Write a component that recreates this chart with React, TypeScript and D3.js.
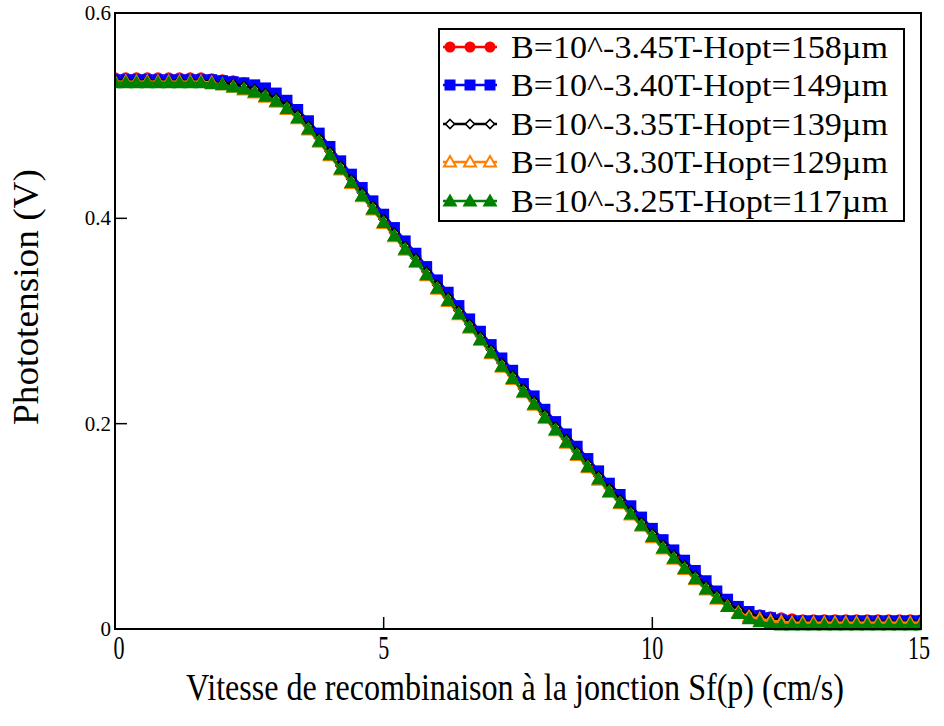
import React from "react";
import * as d3 from "d3";

const X = [0,0.2,0.4,0.6,0.8,1,1.2,1.4,1.6,1.8,2,2.2,2.4,2.6,2.8,3,3.2,3.4,3.6,3.8,4,4.2,4.4,4.6,4.8,5,5.2,5.4,5.6,5.8,6,6.2,6.4,6.6,6.8,7,7.2,7.4,7.6,7.8,8,8.2,8.4,8.6,8.8,9,9.2,9.4,9.6,9.8,10,10.2,10.4,10.6,10.8,11,11.2,11.4,11.6,11.8,12,12.2,12.4,12.6,12.8,13,13.2,13.4,13.6,13.8,14,14.2,14.4,14.6,14.8,15];

const redV = [0.537,0.537,0.537,0.537,0.537,0.537,0.537,0.537,0.537,
  0.536,0.535,0.534,0.532,0.529,0.525,0.520,0.512,0.503,0.492,
  0.480,0.467,0.453,0.440,0.427,0.414,0.401,0.388,0.375,0.363,
  0.350,0.337,0.325,0.312,0.299,0.287,0.274,0.261,0.249,0.236,
  0.224,0.211,0.199,0.187,0.175,0.163,0.151,0.139,0.128,0.117,
  0.106,0.095,0.084,0.074,0.064,0.054,0.044,0.035,0.027,0.021,
  0.017,0.014,0.012,0.011,0.010,
  0.009,0.009,0.009,0.009,0.009,0.009,0.009,0.009,0.009,0.009,0.009,0.009];
const blueV = [0.535,0.535,0.535,0.535,0.535,0.535,0.535,0.535,0.535,
  0.535,0.534,0.533,0.532,0.530,0.527,0.522,0.515,0.506,0.495,
  0.483,0.470,0.456,0.443,0.430,0.417,0.404,0.391,0.378,0.366,
  0.353,0.340,0.328,0.315,0.302,0.290,0.277,0.264,0.252,0.239,
  0.227,0.214,0.202,0.190,0.178,0.166,0.154,0.142,0.131,0.120,
  0.109,0.098,0.087,0.077,0.067,0.057,0.047,0.037,0.029,0.022,
  0.017,0.013,0.011,0.009,0.008,
  0.008,0.008,0.008,0.008,0.008,0.008,0.008,0.008,0.008,0.008,0.008,0.008];
const blackV = [0.534,0.534,0.534,0.534,0.534,0.534,0.534,0.534,0.534,
  0.533,0.532,0.531,0.529,0.526,0.522,0.517,0.510,0.501,0.490,
  0.478,0.465,0.451,0.438,0.425,0.412,0.399,0.386,0.373,0.361,
  0.348,0.335,0.323,0.310,0.297,0.285,0.272,0.259,0.247,0.234,
  0.222,0.209,0.197,0.185,0.173,0.161,0.149,0.137,0.126,0.115,
  0.104,0.093,0.082,0.072,0.062,0.052,0.042,0.033,0.025,0.019,
  0.015,0.012,0.010,0.009,0.008,
  0.007,0.007,0.007,0.007,0.007,0.007,0.007,0.007,0.007,0.007,0.007,0.007];
const orangeV = [0.533,0.533,0.533,0.533,0.533,0.533,0.533,0.533,0.533,
  0.532,0.530,0.528,0.525,0.522,0.518,0.513,0.506,0.497,0.486,
  0.474,0.461,0.447,0.434,0.421,0.408,0.395,0.382,0.369,0.357,
  0.344,0.331,0.319,0.306,0.293,0.281,0.268,0.255,0.243,0.230,
  0.218,0.205,0.193,0.181,0.169,0.157,0.145,0.133,0.122,0.111,
  0.100,0.089,0.078,0.068,0.058,0.048,0.038,0.029,0.022,0.016,
  0.012,0.010,0.008,0.007,0.006,
  0.006,0.006,0.006,0.006,0.006,0.006,0.006,0.006,0.006,0.006,0.006,0.006];
const greenV = [0.532,0.532,0.532,0.532,0.532,0.532,0.532,0.532,0.532,
  0.531,0.530,0.528,0.526,0.523,0.519,0.514,0.507,0.498,0.487,
  0.475,0.462,0.448,0.435,0.422,0.409,0.396,0.383,0.370,0.358,
  0.345,0.332,0.320,0.307,0.294,0.282,0.269,0.256,0.244,0.231,
  0.219,0.206,0.194,0.182,0.170,0.158,0.146,0.134,0.123,0.112,
  0.101,0.090,0.079,0.069,0.059,0.049,0.039,0.030,0.022,0.015,
  0.010,0.007,0.005,0.004,0.004,
  0.004,0.004,0.004,0.004,0.004,0.004,0.004,0.004,0.004,0.004,0.004,0.004];

const labels = [
  "B=10^-3.45T-Hopt=158\u00b5m",
  "B=10^-3.40T-Hopt=149\u00b5m",
  "B=10^-3.35T-Hopt=139\u00b5m",
  "B=10^-3.30T-Hopt=129\u00b5m",
  "B=10^-3.25T-Hopt=117\u00b5m",
];
const colors = ["#ff0000", "#0000ff", "#000000", "#ff8000", "#008000"];
const shapes = ["circle", "square", "diamond", "triangleOpen", "triangle"];
const seriesValues = [redV, blueV, blackV, orangeV, greenV];

const xTicks = [0, 5, 10, 15];
const yTicks = [0, 0.2, 0.4, 0.6];
const yTickLabels = ["0", "0.2", "0.4", "0.6"];

const L = 115, R = 921, T = 13, B = 629;
const FONT = "'Liberation Serif', 'Times New Roman', serif";

function Marker({ shape, color, x, y }: { shape: string; color: string; x: number; y: number }) {
  if (shape === "circle") return <circle cx={x} cy={y} r={5.5} fill={color} />;
  if (shape === "square") return <rect x={x - 5.5} y={y - 5.5} width={11} height={11} fill={color} />;
  if (shape === "diamond")
    return <path d={`M${x},${y - 4.5}L${x + 4.5},${y}L${x},${y + 4.5}L${x - 4.5},${y}Z`} fill="#fff" stroke={color} strokeWidth={1.6} />;
  if (shape === "triangleOpen")
    return <path d={`M${x},${y - 6}L${x + 6},${y + 4.5}L${x - 6},${y + 4.5}Z`} fill="#fff" stroke={color} strokeWidth={2} />;
  return <path d={`M${x},${y - 7.5}L${x + 7.5},${y + 5.5}L${x - 7.5},${y + 5.5}Z`} fill={color} />;
}

export default function App() {
  const x = d3.scaleLinear().domain([0, 15]).range([L, R]);
  const y = d3.scaleLinear().domain([0, 0.6]).range([B, T]);
  const line = d3.line<number>().x((_, i) => x(X[i])).y((v) => y(v));

  const rows = [47, 85, 124, 162, 201];

  return (
    <svg width={944} height={726} style={{ position: "absolute", left: 0, top: 0, background: "#fff" }}>
      <rect x={0} y={0} width={944} height={726} fill="#fff" />
      <defs>
        <clipPath id="plot">
          <rect x={L} y={T - 2} width={R - L} height={B - T + 12} />
        </clipPath>
      </defs>
      <g clipPath="url(#plot)">
        {seriesValues.map((vals, si) => (
          <g key={si}>
            <path d={line(vals) || ""} fill="none" stroke={colors[si]} strokeWidth={2.5} />
            {vals.map((v, i) => (
              <Marker key={i} shape={shapes[si]} color={colors[si]} x={x(X[i])} y={y(v)} />
            ))}
          </g>
        ))}
      </g>
      <rect x={L} y={T} width={R - L} height={B - T} fill="none" stroke="#000" strokeWidth={2} />
      {xTicks.slice(1, -1).map((t) => (
        <line key={t} x1={x(t)} x2={x(t)} y1={B} y2={B - 12} stroke="#000" strokeWidth={1.5} />
      ))}
      {yTicks.slice(1, -1).map((t) => (
        <line key={t} x1={L} x2={L + 12} y1={y(t)} y2={y(t)} stroke="#000" strokeWidth={1.5} />
      ))}
      {xTicks.map((t) => (
        <text key={t} transform={`translate(${x(t) + (t === 0 ? 4 : t === 15 ? -2 : 0)},${659}) scale(0.65,1)`} textAnchor="middle" fontFamily={FONT} fontSize={34} fill="#000">
          {t}
        </text>
      ))}
      {yTicks.map((t, i) => (
        <text key={t} x={L - 4} y={y(t) + 7} textAnchor="end" fontFamily={FONT} fontSize={21} fill="#000">
          {yTickLabels[i]}
        </text>
      ))}
      <text x={186} y={700} textLength={658} lengthAdjust="spacingAndGlyphs" fontFamily={FONT} fontSize={37} fill="#000">
        Vitesse de recombinaison à la jonction Sf(p) (cm/s)
      </text>
      <text transform="translate(38,425) rotate(-90)" textLength={256} lengthAdjust="spacingAndGlyphs" fontFamily={FONT} fontSize={35} fill="#000">
        Phototension (V)
      </text>
      <rect x={439} y={29} width={465} height={192} fill="#fff" stroke="#000" strokeWidth={2} />
      {labels.map((lab, i) => (
        <g key={i}>
          <line x1={443} x2={497} y1={rows[i]} y2={rows[i]} stroke={colors[i]} strokeWidth={2.5} />
          {[450, 470, 490].map((mx) => (
            <Marker key={mx} shape={shapes[i]} color={colors[i]} x={mx} y={rows[i]} />
          ))}
          <text x={511} y={rows[i] + 11} textLength={377} lengthAdjust="spacingAndGlyphs" fontFamily={FONT} fontSize={32} fill="#000">
            {lab}
          </text>
        </g>
      ))}
    </svg>
  );
}
